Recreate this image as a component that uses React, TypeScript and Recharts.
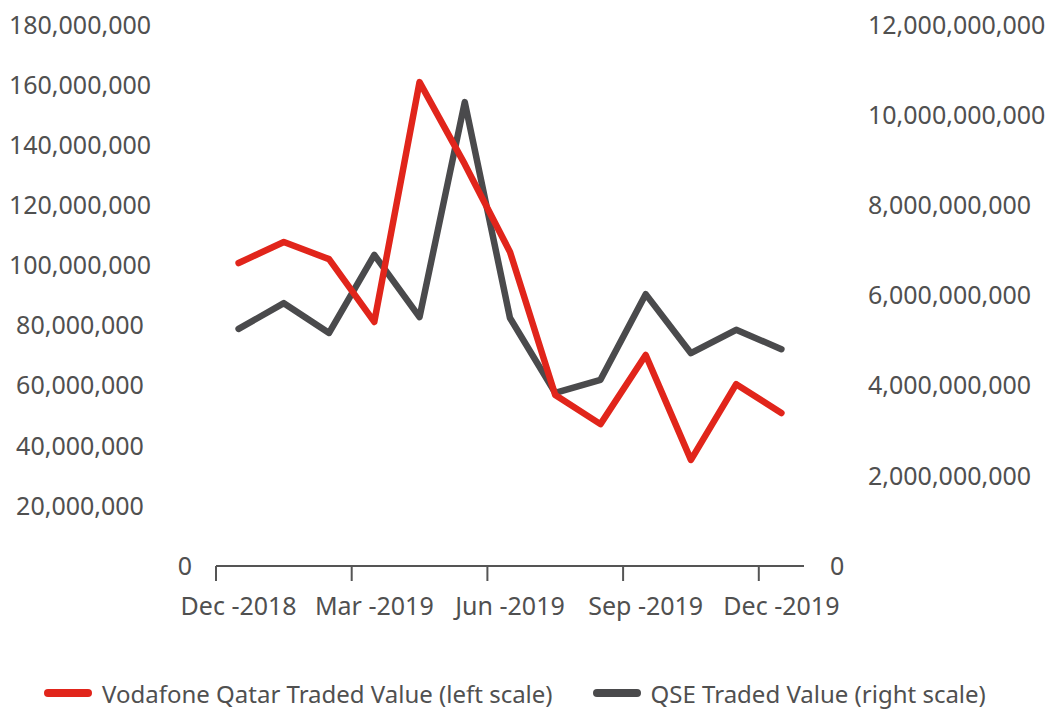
import { Legend, Line, LineChart, XAxis, YAxis } from "recharts";

const MONTHS = [
  "Dec -2018", "Jan -2019", "Feb -2019", "Mar -2019", "Apr -2019", "May -2019", "Jun -2019",
  "Jul -2019", "Aug -2019", "Sep -2019", "Oct -2019", "Nov -2019", "Dec -2019",
];
const VODAFONE_VALUE = [
  100.8e6, 107.8e6, 102.1e6, 81.2e6, 161e6, 133.7e6, 104.5e6, 56.9e6, 47.2e6, 70.2e6, 35.3e6,
  60.5e6, 50.9e6,
];
const QSE_VALUE = [
  5.26e9, 5.83e9, 5.17e9, 6.9e9, 5.52e9, 10.29e9, 5.5e9, 3.84e9, 4.13e9, 6.03e9, 4.72e9, 5.24e9,
  4.81e9,
];
const LEFT_TICKS = [0, 20e6, 40e6, 60e6, 80e6, 100e6, 120e6, 140e6, 160e6, 180e6];
const RIGHT_TICKS = [0, 2e9, 4e9, 6e9, 8e9, 10e9, 12e9];

const RED = "#e1251b";
const GREY = "#4a4a4c";
const TEXT = "#505050";
const FONT = "'Noto Sans', sans-serif";
const HALF_BAND = 22.6;

const data = MONTHS.map((month, i) => ({
  month,
  vodafone: VODAFONE_VALUE[i],
  qse: QSE_VALUE[i],
}));

const fmt = (v: number) => v.toLocaleString("en-US");

function LeftTick({ x, y, payload }: any) {
  const zero = payload.value === 0;
  return (
    <text
      x={zero ? x - 31 : x - 136}
      y={y}
      dy="0.35em"
      textAnchor="middle"
      fill={TEXT}
      fontSize={25}
      fontFamily={FONT}
    >
      {fmt(payload.value)}
    </text>
  );
}

function RightTick({ x, y, payload }: any) {
  const zero = payload.value === 0;
  return (
    <text
      x={zero ? x + 26 : x + 64}
      y={y}
      dy="0.35em"
      textAnchor="start"
      fill={TEXT}
      fontSize={25}
      fontFamily={FONT}
    >
      {fmt(payload.value)}
    </text>
  );
}

function MonthTick({ x, y, payload }: any) {
  return (
    <g>
      <line x1={x - HALF_BAND} x2={x - HALF_BAND} y1={y} y2={y + 15} stroke="#555" strokeWidth={2} />
      <text x={x} y={y + 40} dy="0.35em" textAnchor="middle" fill={TEXT} fontSize={25} fontFamily={FONT}>
        {payload.value}
      </text>
    </g>
  );
}

function LegendContent() {
  const items = [
    { label: "Vodafone Qatar Traded Value (left scale)", color: RED, gap: 40 },
    { label: "QSE Traded Value (right scale)", color: GREY, gap: 0 },
  ];
  return (
    <div
      style={{
        height: 36,
        display: "flex",
        alignItems: "center",
        paddingLeft: 44,
        fontFamily: FONT,
        fontSize: 24,
        color: TEXT,
      }}
    >
      {items.map((item) => (
        <div key={item.label} style={{ display: "flex", alignItems: "center", marginRight: item.gap }}>
          <span
            style={{
              display: "inline-block",
              width: 48,
              height: 8,
              borderRadius: 4,
              background: item.color,
              marginRight: 10,
            }}
          />
          <span>{item.label}</span>
        </div>
      ))}
    </div>
  );
}

export default function App() {
  return (
    <div style={{ position: "absolute", left: 0, top: 0, background: "#fff" }}>
      <LineChart width={1051} height={711} data={data} margin={{ top: 25, right: 0, bottom: 0, left: 0 }}>
        <XAxis
          dataKey="month"
          interval={2}
          padding={{ left: HALF_BAND, right: HALF_BAND }}
          height={109}
          stroke="#555"
          strokeWidth={2}
          tickLine={false}
          tickSize={0}
          tickMargin={0}
          tick={<MonthTick />}
        />
        <YAxis
          yAxisId="left"
          orientation="left"
          width={216}
          domain={[0, 180e6]}
          ticks={LEFT_TICKS}
          axisLine={false}
          tickLine={false}
          tickSize={0}
          tickMargin={0}
          tick={<LeftTick />}
        />
        <YAxis
          yAxisId="right"
          orientation="right"
          width={247}
          domain={[0, 12e9]}
          ticks={RIGHT_TICKS}
          axisLine={false}
          tickLine={false}
          tickSize={0}
          tickMargin={0}
          tick={<RightTick />}
        />
        <Legend verticalAlign="bottom" align="left" content={<LegendContent />} />
        <Line
          yAxisId="right"
          dataKey="qse"
          name="QSE Traded Value (right scale)"
          stroke={GREY}
          strokeWidth={6.5}
          strokeLinecap="round"
          strokeLinejoin="round"
          dot={false}
          isAnimationActive={false}
        />
        <Line
          yAxisId="left"
          dataKey="vodafone"
          name="Vodafone Qatar Traded Value (left scale)"
          stroke={RED}
          strokeWidth={6.5}
          strokeLinecap="round"
          strokeLinejoin="round"
          dot={false}
          isAnimationActive={false}
        />
      </LineChart>
    </div>
  );
}
